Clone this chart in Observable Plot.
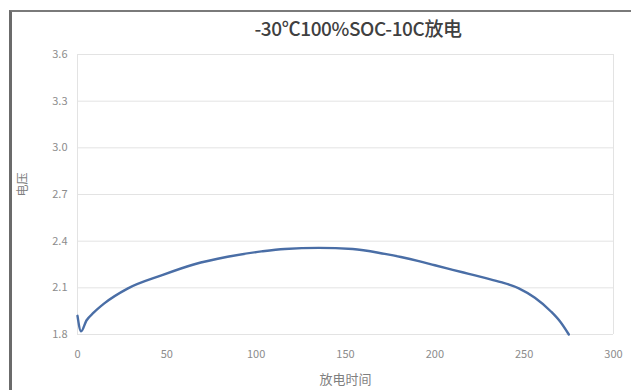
<!DOCTYPE html>
<html><head><meta charset="utf-8">
<script src="https://cdn.jsdelivr.net/npm/d3@7"></script>
<script src="https://cdn.jsdelivr.net/npm/@observablehq/plot@0.6"></script>
<style>
html,body{margin:0;padding:0;background:#fff;}
#wrap{position:relative;width:631px;height:390px;overflow:hidden;font-family:"Noto Sans CJK SC","Noto Sans",sans-serif;}
#border{position:absolute;left:9px;top:10px;width:640px;height:400px;border-left:3px solid #6b6b6b;border-top:2px solid #7a7a7a;box-sizing:border-box;}
#title{position:absolute;left:0;width:716px;top:14px;text-align:center;font-size:19px;font-weight:500;color:#404040;letter-spacing:-0.4px;}
#chart{position:absolute;left:0;top:0;}
</style></head>
<body><div id="wrap"><div id="border"></div><div id="chart"></div><div id="title">-30℃100%SOC-10C放电</div></div>
<script>
const times = [0,2,5,9,15,28,47,65,84,103,116,135,154,172,181,191,200,210,219,228,237,247,256,265,270,275];
const volts = [1.92,1.82,1.89,1.94,2.0,2.095,2.18,2.25,2.30,2.334,2.35,2.357,2.35,2.318,2.298,2.272,2.245,2.216,2.19,2.164,2.137,2.097,2.036,1.948,1.885,1.80];
const xTicks = [0,50,100,150,200,250,300];
const yTicks = [1.8,2.1,2.4,2.7,3.0,3.3,3.6];
const xLabel = "放电时间";
const yLabel = "电压";

const data = times.map((t,i)=>({t, v: volts[i]}));

const chart = Plot.plot({
  width: 631, height: 390,
  marginLeft: 77, marginRight: 18, marginTop: 54, marginBottom: 56,
  style: {fontFamily: "'Noto Sans CJK SC','Noto Sans',sans-serif", fontSize: "11px", color: "#8c8c8c", background: "transparent"},
  x: {domain: [0,300], ticks: xTicks, tickSize: 0, tickPadding: 16, label: null},
  y: {domain: [1.8,3.6], ticks: yTicks, tickSize: 0, tickPadding: 10, tickFormat: d3.format(".1f"), label: null},
  marks: [
    Plot.ruleY(yTicks, {stroke: "#e3e3e3", strokeWidth: 1}),
    Plot.ruleX([0, 300], {stroke: "#e3e3e3", strokeWidth: 1}),
    Plot.axisX({ticks: xTicks, tickSize: 0, tickPadding: 16, fill: "#8c8c8c", fontSize: 11}),
    Plot.axisY({ticks: yTicks, tickSize: 0, tickPadding: 10, tickFormat: d3.format(".1f"), fill: "#8c8c8c", fontSize: 11}),
    Plot.line(data, {x: "t", y: "v", stroke: "#4a6ea6", strokeWidth: 2.4, curve: "monotone-x"}),
    Plot.text([xLabel], {x: 150, y: 1.8, dy: 49, text: d => d, fill: "#7f7f7f", fontSize: 13, frameAnchor: "bottom"}),
    Plot.text([yLabel], {frameAnchor: "left", dx: -54, y: 2.7, dy: 2, text: d => d, rotate: -90, fill: "#7f7f7f", fontSize: 12})
  ]
});
document.getElementById("chart").appendChild(chart);
</script></body></html>
